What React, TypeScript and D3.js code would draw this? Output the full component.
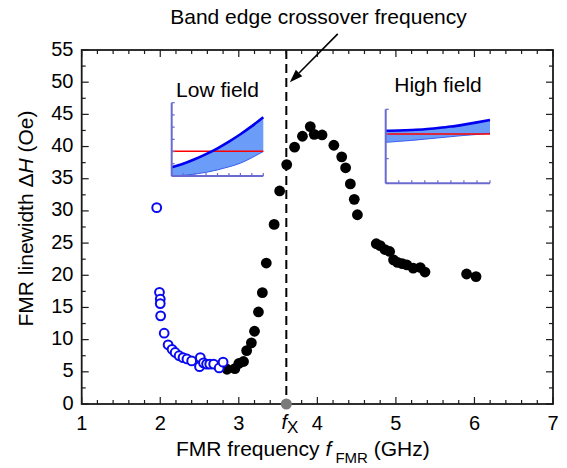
import React from "react";
import * as d3 from "d3";

// ---- Data ----
const lowFieldFreq = [1.955, 1.99, 2.0, 2.0, 2.005, 2.05, 2.1, 2.15, 2.19, 2.24, 2.29, 2.34, 2.4, 2.51, 2.5, 2.55, 2.59, 2.63, 2.68, 2.75, 2.8];
const lowFieldWidth = [30.5, 17.35, 16.3, 15.6, 13.7, 11.0, 9.2, 8.5, 8.0, 7.5, 7.2, 7.0, 6.7, 7.2, 5.8, 6.4, 6.2, 6.2, 6.2, 5.6, 6.5];

const highFieldFreq = [2.85, 2.95, 3.0, 3.06, 3.1, 3.16, 3.2, 3.25, 3.3, 3.35, 3.45, 3.52, 3.61, 3.71, 3.81, 3.91, 3.96, 4.06, 4.21, 4.31, 4.36, 4.42, 4.47, 4.51, 4.75, 4.8, 4.86, 4.92, 4.97, 5.02, 5.08, 5.14, 5.22, 5.31, 5.37, 5.9, 6.02];
const highFieldWidth = [5.4, 5.5, 6.3, 6.6, 8.3, 9.5, 11.3, 14.3, 17.3, 21.9, 27.9, 33.1, 37.2, 39.9, 41.6, 43.1, 41.9, 41.8, 40.2, 38.4, 36.7, 34.2, 31.8, 29.4, 24.9, 24.6, 24.0, 23.7, 22.4, 22.0, 21.8, 21.6, 21.1, 21.2, 20.5, 20.2, 19.8];

const crossoverFreq = 3.605;

const xTickValues = [1, 2, 3, 4, 5, 6, 7];
const yTickValues = [0, 5, 10, 15, 20, 25, 30, 35, 40, 45, 50, 55];

// Inset curves (inset units: x 0..8)
const insetX = [0, 1, 2, 3, 4, 5, 6, 7, 8];
const lowUpper = [0.71, 1.0, 1.37, 1.79, 2.27, 2.82, 3.42, 4.08, 4.81];
const lowLower = [0, 0.05, 0.15, 0.3, 0.5, 0.75, 1.05, 1.5, 2.0];
const lowRef = 2.02;
const highUpper = [2.13, 2.14, 2.16, 2.19, 2.24, 2.3, 2.38, 2.47, 2.57];
const highLower = [1.66, 1.7, 1.74, 1.79, 1.84, 1.89, 1.94, 1.98, 2.03];
const highRef = 2.0;

const FONT = "'Liberation Sans', Arial, Helvetica, sans-serif";

function Inset({ x0, x1, yTop, yBot, yMax, yTicks, upper, lower, refVal }: any) {
  const sx = d3.scaleLinear().domain([0, 8]).range([x0, x1]);
  const sy = d3.scaleLinear().domain([0, yMax]).range([yBot, yTop]);
  const pts = insetX.map((x, i) => ({ x, u: upper[i], l: lower[i] }));
  const area = d3.area<any>().x((d) => sx(d.x)).y0((d) => sy(d.l)).y1((d) => sy(d.u)).curve(d3.curveMonotoneX);
  const upLine = d3.line<any>().x((d) => sx(d.x)).y((d) => sy(d.u)).curve(d3.curveMonotoneX);
  const loLine = d3.line<any>().x((d) => sx(d.x)).y((d) => sy(d.l)).curve(d3.curveMonotoneX);
  const axisColor = "#6a6ad0";
  return (
    <g>
      <path d={area(pts) || ""} fill="#6b9cf8" stroke="none" />
      <path d={loLine(pts) || ""} fill="none" stroke="#3a5ef0" strokeWidth={1} />
      <line x1={x0} x2={x1} y1={sy(refVal)} y2={sy(refVal)} stroke="#ff0000" strokeWidth={1.6} />
      <path d={upLine(pts) || ""} fill="none" stroke="#0000f0" strokeWidth={2.6} />
      <line x1={x0} x2={x0} y1={yTop} y2={yBot} stroke={axisColor} strokeWidth={2} />
      <line x1={x0} x2={x1} y1={yBot} y2={yBot} stroke={axisColor} strokeWidth={2} />
      {d3.range(0, yTicks + 1).map((i) => {
        const y = yBot - (i * (yBot - yTop)) / yTicks;
        return <line key={"yt" + i} x1={x0} x2={x0 + 3} y1={y} y2={y} stroke={axisColor} strokeWidth={1.2} />;
      })}
      {insetX.map((v) => (
        <line key={"xt" + v} x1={sx(v)} x2={sx(v)} y1={yBot} y2={yBot - 3} stroke={axisColor} strokeWidth={1.2} />
      ))}
    </g>
  );
}

export default function App() {
  const W = 567, H = 468;
  const xs = d3.scaleLinear().domain([1, 7]).range([81.7, 553]);
  const ys = d3.scaleLinear().domain([0, 55]).range([404, 50]);
  const [xl, xr] = xs.range();
  const [yb, yt] = ys.range();

  const xMinor = d3.range(1, 7.0001, 0.2).map((v) => Math.round(v * 10) / 10);
  const yMinor = d3.range(0, 55.0001, 2.5);
  const isMajorX = (v: number) => Math.abs(v - Math.round(v)) < 1e-6;
  const isMajorY = (v: number) => Math.abs(v / 5 - Math.round(v / 5)) < 1e-6;
  const frame = "#1a1a1a";

  const xc = xs(crossoverFreq);
  // arrow
  const tipX = xs(3.65), tipY = ys(50.0);
  const tailX = xs(4.26), tailY = ys(57.5);
  const ang = Math.atan2(tipY - tailY, tipX - tailX);
  const aL = 13, aW = 4.5;
  const bx = tipX - aL * Math.cos(ang), by = tipY - aL * Math.sin(ang);
  const px = -Math.sin(ang), py = Math.cos(ang);
  const head = `${tipX},${tipY} ${bx + aW * px},${by + aW * py} ${bx - aW * px},${by - aW * py}`;

  return (
    <svg width={W} height={H} style={{ position: "absolute", left: 0, top: 0, background: "#fff" }} fontFamily={FONT}>
      <rect x={0} y={0} width={W} height={H} fill="#fff" />

      {/* insets */}
      <text x={217.5} y={96.5} fontSize={21} textAnchor="middle" fill="#000">Low field</text>
      <Inset x0={171.7} x1={263.3} yTop={102.7} yBot={176} yMax={6} yTicks={6} upper={lowUpper} lower={lowLower} refVal={lowRef} />
      <text x={438} y={91.5} fontSize={21} textAnchor="middle" fill="#000">High field</text>
      <Inset x0={385.7} x1={490} yTop={109.3} yBot={183.3} yMax={3} yTicks={3} upper={highUpper} lower={highLower} refVal={highRef} />

      {/* dashed crossover line */}
      <line x1={xc} x2={xc} y1={yt} y2={yb} stroke="#000" strokeWidth={2} strokeDasharray="9,5" />

      {/* data */}
      {highFieldFreq.map((f, i) => (
        <circle key={"h" + i} cx={xs(f)} cy={ys(highFieldWidth[i])} r={5.4} fill="#000" />
      ))}
      {lowFieldFreq.map((f, i) => (
        <circle key={"l" + i} cx={xs(f)} cy={ys(lowFieldWidth[i])} r={4.4} fill="#fff" stroke="#0a0af0" strokeWidth={2} />
      ))}

      {/* frame */}
      <rect x={xl} y={yt} width={xr - xl} height={yb - yt} fill="none" stroke={frame} strokeWidth={1.8} />
      {xMinor.map((v) => {
        const L = isMajorX(v) ? 7 : 4;
        return (
          <g key={"xm" + v}>
            <line x1={xs(v)} x2={xs(v)} y1={yb} y2={yb - L} stroke={frame} strokeWidth={1.2} />
            <line x1={xs(v)} x2={xs(v)} y1={yt} y2={yt + L} stroke={frame} strokeWidth={1.2} />
          </g>
        );
      })}
      {yMinor.map((v) => {
        const L = isMajorY(v) ? 7 : 4;
        return (
          <g key={"ym" + v}>
            <line x1={xl} x2={xl + L} y1={ys(v)} y2={ys(v)} stroke={frame} strokeWidth={1.2} />
            <line x1={xr} x2={xr - L} y1={ys(v)} y2={ys(v)} stroke={frame} strokeWidth={1.2} />
          </g>
        );
      })}

      {/* tick labels */}
      {xTickValues.map((v) => (
        <text key={"xl" + v} x={xs(v)} y={430} fontSize={20} textAnchor="middle" fill="#000">{v}</text>
      ))}
      {yTickValues.map((v) => (
        <text key={"yl" + v} x={73.5} y={ys(v) + 5.5} fontSize={20} textAnchor="end" fill="#000">{v}</text>
      ))}

      {/* crossover marker */}
      <circle cx={xc} cy={yb} r={5.5} fill="#7a7a7a" />
      <text x={281.5} y={429} fontSize={20} fill="#000">
        <tspan fontStyle="italic">f</tspan>
        <tspan fontSize={17} dy={4}>X</tspan>
      </text>

      {/* axis titles */}
      <text x={176} y={456} fontSize={21} fill="#000">
        FMR frequency <tspan fontStyle="italic">f</tspan>
        <tspan fontSize={15} dy={7}> FMR</tspan>
        <tspan dy={-7}> (GHz)</tspan>
      </text>
      <text transform={`translate(33,218.5) rotate(-90)`} fontSize={21} textAnchor="middle" fill="#000">
        FMR linewidth Δ<tspan fontStyle="italic">H</tspan> (Oe)
      </text>

      {/* annotation */}
      <text x={318.5} y={24} fontSize={21} textAnchor="middle" fill="#000">Band edge crossover frequency</text>
      <line x1={tailX} y1={tailY} x2={bx} y2={by} stroke="#000" strokeWidth={1.6} />
      <polygon points={head} fill="#000" />
    </svg>
  );
}
